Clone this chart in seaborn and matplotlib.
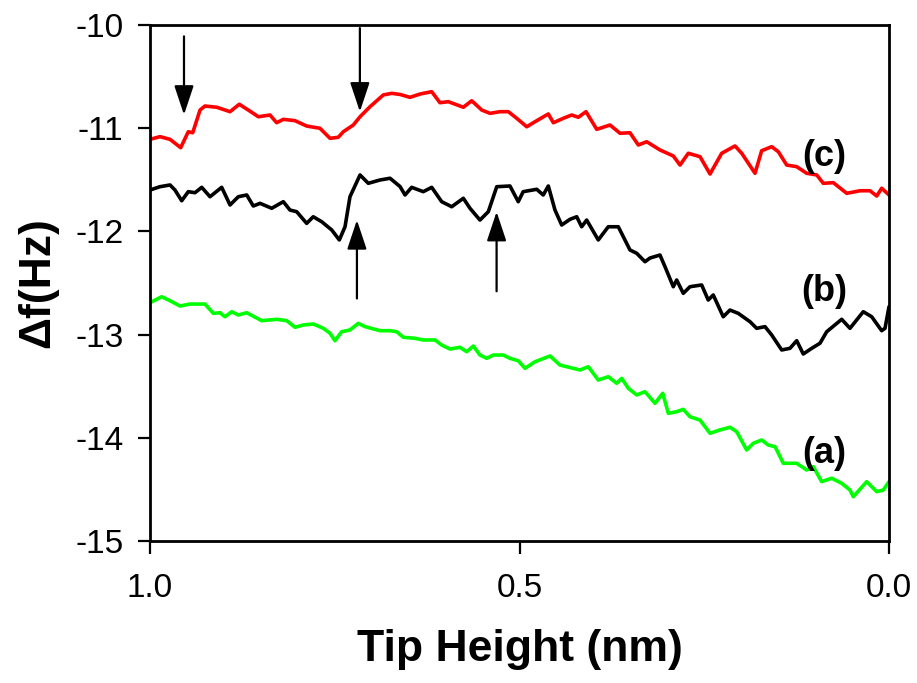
import matplotlib
matplotlib.use("Agg")
import matplotlib.pyplot as plt
import seaborn as sns
import pandas as pd

# ---- data ----
red_x = [1.000, 0.9865, 0.9729, 0.9585, 0.9482, 0.9422, 0.9323, 0.9256, 0.9097, 0.8917,
         0.8792, 0.8670, 0.8534, 0.8376, 0.8286, 0.8196, 0.8038, 0.7880, 0.7700, 0.7564,
         0.7452, 0.7384, 0.7249, 0.7158, 0.7023, 0.6843, 0.6729, 0.6617, 0.6482, 0.6346,
         0.6188, 0.6076, 0.5963, 0.5760, 0.5647, 0.5511, 0.5399, 0.5264, 0.5151, 0.5038,
         0.4902, 0.4790, 0.4610, 0.4542, 0.4407, 0.4294, 0.4204, 0.4100, 0.3955, 0.3775,
         0.3640, 0.3505, 0.3392, 0.3279, 0.3099, 0.2919, 0.2828, 0.2716, 0.2557, 0.2422,
         0.2264, 0.2084, 0.1993, 0.1813, 0.1723, 0.1587, 0.1498, 0.1384, 0.1249, 0.1114,
         0.0978, 0.0889, 0.0753, 0.0572, 0.0392, 0.0257, 0.0166, 0.0099, 0.000]
red_y = [-11.108, -11.082, -11.108, -11.189, -11.034, -11.044, -10.824, -10.785, -10.797, -10.840,
         -10.768, -10.824, -10.889, -10.872, -10.947, -10.914, -10.927, -10.979, -11.001, -11.098,
         -11.088, -11.034, -10.969, -10.889, -10.792, -10.678, -10.662, -10.673, -10.701, -10.669,
         -10.646, -10.753, -10.743, -10.797, -10.734, -10.824, -10.856, -10.840, -10.840, -10.904,
         -10.986, -10.937, -10.862, -10.947, -10.904, -10.872, -10.894, -10.840, -11.011, -10.969,
         -11.049, -11.044, -11.163, -11.131, -11.211, -11.269, -11.357, -11.243, -11.276, -11.444,
         -11.243, -11.172, -11.243, -11.437, -11.218, -11.179, -11.228, -11.357, -11.373, -11.437,
         -11.453, -11.534, -11.528, -11.631, -11.606, -11.606, -11.657, -11.582, -11.647]

black_x = [1.000, 0.9865, 0.9729, 0.9662, 0.9571, 0.9482, 0.9391, 0.9300, 0.9188, 0.9030,
           0.8917, 0.8805, 0.8691, 0.8602, 0.8511, 0.8353, 0.8196, 0.8106, 0.8015, 0.7880,
           0.7791, 0.7677, 0.7541, 0.7438, 0.7361, 0.7294, 0.7158, 0.7046, 0.6888, 0.6752,
           0.6617, 0.6549, 0.6459, 0.6302, 0.6188, 0.6053, 0.5917, 0.5760, 0.5670, 0.5535,
           0.5422, 0.5308, 0.5129, 0.5017, 0.4950, 0.4767, 0.4679, 0.4610, 0.4520, 0.4429,
           0.4317, 0.4226, 0.4159, 0.4091, 0.3934, 0.3799, 0.3663, 0.3505, 0.3414, 0.3302,
           0.3234, 0.3099, 0.3031, 0.2919, 0.2873, 0.2784, 0.2693, 0.2535, 0.2446, 0.2378,
           0.2243, 0.2152, 0.2040, 0.1881, 0.1791, 0.1678, 0.1587, 0.1452, 0.1340, 0.1249,
           0.1160, 0.1046, 0.0934, 0.0843, 0.0640, 0.0528, 0.0348, 0.0234, 0.0099, 0.0054,
           0.000]
black_y = [-11.599, -11.567, -11.550, -11.599, -11.703, -11.615, -11.625, -11.573, -11.664, -11.573,
           -11.744, -11.664, -11.647, -11.754, -11.728, -11.776, -11.712, -11.793, -11.809, -11.922,
           -11.858, -11.906, -11.986, -12.083, -11.955, -11.664, -11.453, -11.534, -11.502, -11.485,
           -11.565, -11.647, -11.573, -11.615, -11.573, -11.712, -11.761, -11.679, -11.776, -11.890,
           -11.809, -11.567, -11.560, -11.712, -11.615, -11.592, -11.647, -11.560, -11.793, -11.938,
           -11.883, -11.858, -11.955, -11.890, -12.083, -11.955, -11.955, -12.180, -12.212, -12.294,
           -12.258, -12.229, -12.342, -12.536, -12.471, -12.600, -12.536, -12.519, -12.665, -12.616,
           -12.827, -12.762, -12.794, -12.875, -12.939, -12.923, -13.004, -13.149, -13.133, -13.059,
           -13.188, -13.133, -13.084, -12.972, -12.852, -12.939, -12.778, -12.827, -12.962, -12.939,
           -12.730]

green_x = [1.000, 0.9842, 0.9729, 0.9594, 0.9459, 0.9256, 0.9143, 0.9053, 0.8985, 0.8894,
           0.8805, 0.8691, 0.8489, 0.8286, 0.8150, 0.8038, 0.7926, 0.7790, 0.7655, 0.7564,
           0.7497, 0.7406, 0.7294, 0.7181, 0.7091, 0.6888, 0.6752, 0.6662, 0.6572, 0.6414,
           0.6302, 0.6143, 0.6053, 0.5940, 0.5805, 0.5714, 0.5625, 0.5535, 0.5444, 0.5354,
           0.5219, 0.5129, 0.5017, 0.4925, 0.4790, 0.4587, 0.4452, 0.4272, 0.4181, 0.4069,
           0.3934, 0.3799, 0.3685, 0.3617, 0.3528, 0.3414, 0.3302, 0.3166, 0.3062, 0.2986,
           0.2873, 0.2784, 0.2693, 0.2557, 0.2422, 0.2287, 0.2152, 0.2061, 0.1926, 0.1836,
           0.1723, 0.1633, 0.1542, 0.1430, 0.1249, 0.1114, 0.1024, 0.0911, 0.0775, 0.0640,
           0.0528, 0.0483, 0.0302, 0.0166, 0.0077, 0.000]
green_y = [-12.691, -12.633, -12.672, -12.723, -12.704, -12.704, -12.794, -12.788, -12.827, -12.778,
           -12.810, -12.788, -12.865, -12.852, -12.865, -12.929, -12.907, -12.897, -12.939, -12.987,
           -13.059, -12.972, -12.955, -12.891, -12.923, -12.962, -12.962, -12.972, -13.026, -13.036,
           -13.052, -13.052, -13.101, -13.140, -13.123, -13.166, -13.111, -13.198, -13.230, -13.198,
           -13.198, -13.230, -13.253, -13.327, -13.263, -13.207, -13.295, -13.327, -13.343, -13.311,
           -13.440, -13.408, -13.472, -13.424, -13.520, -13.585, -13.553, -13.666, -13.569, -13.763,
           -13.747, -13.724, -13.796, -13.828, -13.956, -13.924, -13.898, -13.941, -14.118, -14.053,
           -14.021, -14.070, -14.086, -14.247, -14.247, -14.312, -14.280, -14.425, -14.392, -14.441,
           -14.506, -14.571, -14.425, -14.522, -14.506, -14.425]

curve_labels = ["(c)", "(b)", "(a)"]
label_x = [0.087, 0.087, 0.087]
label_y = [-11.27, -12.58, -14.15]

# arrows: (x, tail_y, head_y)
arrow_x = [0.954, 0.716, 0.720, 0.531]
arrow_tail = [-10.11, -10.03, -12.65, -12.58]
arrow_head = [-10.87, -10.84, -11.89, -11.81]

x_ticks = [1.0, 0.5, 0.0]
x_ticklabels = ["1.0", "0.5", "0.0"]
y_ticks = [-10, -11, -12, -13, -14, -15]
y_ticklabels = ["-10", "-11", "-12", "-13", "-14", "-15"]

# ---- style ----
sns.set_style("ticks")
plt.rcParams["font.family"] = ["Liberation Sans", "DejaVu Sans"]
plt.rcParams["axes.unicode_minus"] = False
plt.rcParams["text.color"] = "black"
plt.rcParams["axes.labelcolor"] = "black"
plt.rcParams["xtick.color"] = "black"
plt.rcParams["ytick.color"] = "black"

fig = plt.figure(figsize=(9.17, 6.83), dpi=100)
ax = fig.add_axes([150 / 917, 1 - 541 / 683, 739 / 917, 516 / 683])

df_r = pd.DataFrame({"x": red_x, "y": red_y})
df_k = pd.DataFrame({"x": black_x, "y": black_y})
df_g = pd.DataFrame({"x": green_x, "y": green_y})
sns.lineplot(data=df_g, x="x", y="y", ax=ax, color="#00FF00", lw=2.6, sort=False)
sns.lineplot(data=df_k, x="x", y="y", ax=ax, color="black", lw=2.6, sort=False)
sns.lineplot(data=df_r, x="x", y="y", ax=ax, color="#FF0000", lw=2.6, sort=False)

for xa, yt, yh in zip(arrow_x, arrow_tail, arrow_head):
    ax.annotate("", xy=(xa, yh), xytext=(xa, yt),
                arrowprops=dict(arrowstyle="-|>,head_length=0.9,head_width=0.3",
                                mutation_scale=20,
                                color="black", lw=1.6, shrinkA=0, shrinkB=0))

for lab, lx, ly in zip(curve_labels, label_x, label_y):
    ax.text(lx, ly, lab, ha="center", va="center", fontsize=26, fontweight="bold",
            color="black")

ax.set_xlim(1.0, 0.0)
ax.set_ylim(-15, -10)
ax.set_xticks(x_ticks)
ax.set_xticklabels(x_ticklabels)
ax.set_yticks(y_ticks)
ax.set_yticklabels(y_ticklabels)
ax.tick_params(axis="both", direction="out", length=9, width=1.6, labelsize=24,
               colors="black")
ax.tick_params(axis="y", pad=10)
ax.tick_params(axis="x", pad=14)
for s in ax.spines.values():
    s.set_linewidth(2.0)
    s.set_color("black")
    s.set_visible(True)

ax.set_xlabel("Tip Height (nm)", fontsize=32, fontweight="bold", labelpad=18)
ax.set_ylabel("Δf(Hz)", fontsize=32, fontweight="bold", labelpad=12)

fig.savefig("out.png", dpi=100)
